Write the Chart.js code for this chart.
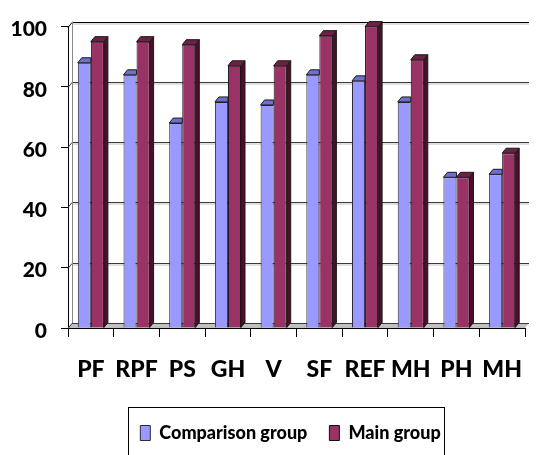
<!DOCTYPE html>
<html>
<head>
<meta charset="utf-8">
<script src="https://cdn.jsdelivr.net/npm/chart.js@4/dist/chart.umd.min.js"></script>
<style>
  html, body { margin: 0; padding: 0; background: #ffffff; }
  canvas { display: block; }
</style>
</head>
<body>
<canvas id="chart" width="541" height="455"></canvas>
<script>
// Scale categories and the two groups' scores
const categories = ['PF', 'RPF', 'PS', 'GH', 'V', 'SF', 'REF', 'MH', 'PH', 'MH'];
const comparisonGroup = [88, 84, 68, 75, 74, 84, 82, 75, 50, 51];
const mainGroup = [95, 95, 94, 87, 87, 97, 100, 89, 50, 58];
const yTicks = [0, 20, 40, 60, 80, 100];

const FONT = "Lato, 'Liberation Sans', sans-serif";
const DX = 4;   // depth offset of the 3D walls and bar faces
const DY = -5;
const LEGEND_SHIFT = 20;

// Walls, floor, extruded bar faces and the legend frame
const pseudo3d = {
  id: 'pseudo3d',
  afterLayout(chart) {
    const lg = chart.legend;
    if (lg) { lg.left += LEGEND_SHIFT; lg.right += LEGEND_SHIFT; }
  },
  beforeDatasetsDraw(chart) {
    const { ctx, chartArea: a, scales: { y } } = chart;
    ctx.save();
    // floor
    ctx.fillStyle = '#c0c0c0';
    ctx.beginPath();
    ctx.moveTo(a.left, a.bottom);
    ctx.lineTo(a.right, a.bottom);
    ctx.lineTo(a.right + DX, a.bottom + DY);
    ctx.lineTo(a.left + DX, a.bottom + DY);
    ctx.closePath();
    ctx.fill();
    // back-wall gridlines with a soft shadow
    yTicks.forEach(v => {
      const py = Math.round(y.getPixelForValue(v) + DY) + 0.5;
      if (v > 0) {
        ctx.strokeStyle = 'rgba(150,150,150,0.6)';
        ctx.lineWidth = 1;
        ctx.beginPath();
        ctx.moveTo(a.left + DX, py + 1.5);
        ctx.lineTo(a.right + DX, py + 1.5);
        ctx.stroke();
      }
      ctx.strokeStyle = v === 100 ? '#000000' : '#3a3a3a';
      ctx.lineWidth = 1;
      ctx.beginPath();
      ctx.moveTo(a.left, py - DY);
      ctx.lineTo(a.left + DX, py);
      ctx.lineTo(a.right + DX, py);
      ctx.stroke();
    });
    // left wall edge
    ctx.strokeStyle = '#8a8a8a';
    ctx.beginPath();
    ctx.moveTo(a.left + DX + 0.5, y.getPixelForValue(100) + DY);
    ctx.lineTo(a.left + DX + 0.5, a.bottom + DY);
    ctx.stroke();
    ctx.restore();
  },
  afterDatasetDraw(chart, args) {
    const { ctx } = chart;
    const ds = chart.data.datasets[args.index];
    // the front series sits behind its right-hand neighbour, so its faces stop at the shared edge
    const hidden = args.index === 0;
    ctx.save();
    ctx.lineWidth = 1;
    ctx.strokeStyle = '#1a1a1a';
    args.meta.data.forEach(el => {
      const p = el.getProps(['x', 'y', 'base', 'width'], true);
      const l = p.x - p.width / 2, r = p.x + p.width / 2;
      if (!hidden) {
        ctx.fillStyle = ds.sideColor;
        ctx.beginPath();
        ctx.moveTo(r, p.y);
        ctx.lineTo(r + DX, p.y + DY);
        ctx.lineTo(r + DX, p.base + DY);
        ctx.lineTo(r, p.base);
        ctx.closePath();
        ctx.fill();
        ctx.stroke();
      }
      ctx.fillStyle = ds.topColor;
      ctx.beginPath();
      ctx.moveTo(l, p.y);
      ctx.lineTo(r, p.y);
      ctx.lineTo(hidden ? r : r + DX, p.y + DY);
      ctx.lineTo(l + DX, p.y + DY);
      ctx.closePath();
      ctx.fill();
      ctx.stroke();
    });
    ctx.restore();
  },
  afterDraw(chart) {
    const lg = chart.legend;
    if (!lg || !lg.legendHitBoxes || !lg.legendHitBoxes.length) return;
    const hb = lg.legendHitBoxes;
    const first = hb[0], last = hb[hb.length - 1];
    const { ctx } = chart;
    ctx.save();
    ctx.strokeStyle = '#000000';
    ctx.lineWidth = 1;
    const cy = first.top + first.height / 2;
    const left = Math.round(first.left - 12) + 0.5;
    const right = Math.round(last.left + last.width + 3) + 0.5;
    const top = Math.round(cy - 26) + 0.5;
    ctx.strokeRect(left, top, right - left, 80);
    ctx.restore();
  }
};

new Chart(document.getElementById('chart'), {
  type: 'bar',
  data: {
    labels: categories,
    datasets: [
      {
        label: 'Comparison group',
        data: comparisonGroup,
        backgroundColor: '#9999ff',
        borderColor: '#2a2a3a',
        borderWidth: 1,
        topColor: '#6f6fd0',
        sideColor: '#5c5ca8'
      },
      {
        label: 'Main group',
        data: mainGroup,
        backgroundColor: '#993366',
        borderColor: '#1e0a14',
        borderWidth: 1,
        topColor: '#6e1f46',
        sideColor: '#4a1029'
      }
    ]
  },
  options: {
    responsive: false,
    animation: false,
    devicePixelRatio: 1,
    layout: { padding: { left: 0, top: 22, right: 0, bottom: 3 } },
    datasets: {
      bar: { categoryPercentage: 0.571, barPercentage: 1.0 }
    },
    scales: {
      x: {
        grid: { offset: true, drawOnChartArea: false, drawTicks: true, tickLength: 9, color: '#000000' },
        border: { display: true, color: '#000000' },
        ticks: {
          color: '#000000',
          padding: 19,
          autoSkip: false,
          maxRotation: 0,
          font: { family: FONT, size: 23, weight: 900 }
        },
        afterFit(s) { s.height = 74; }
      },
      y: {
        min: 0,
        max: 100,
        grid: { drawOnChartArea: false, drawTicks: true, tickLength: 7, color: '#000000' },
        border: { display: true, color: '#000000' },
        ticks: {
          stepSize: 20,
          color: '#000000',
          padding: 14,
          labelOffset: 3,
          font: { family: FONT, size: 21, weight: 900 }
        },
        afterFit(s) { s.width = 68; }
      }
    },
    plugins: {
      legend: {
        position: 'bottom',
        labels: {
          color: '#000000',
          boxWidth: 10,
          boxHeight: 15,
          padding: 22,
          font: { family: FONT, size: 18, weight: 900 }
        }
      },
      tooltip: { enabled: false }
    }
  },
  plugins: [pseudo3d]
});
</script>
</body>
</html>
